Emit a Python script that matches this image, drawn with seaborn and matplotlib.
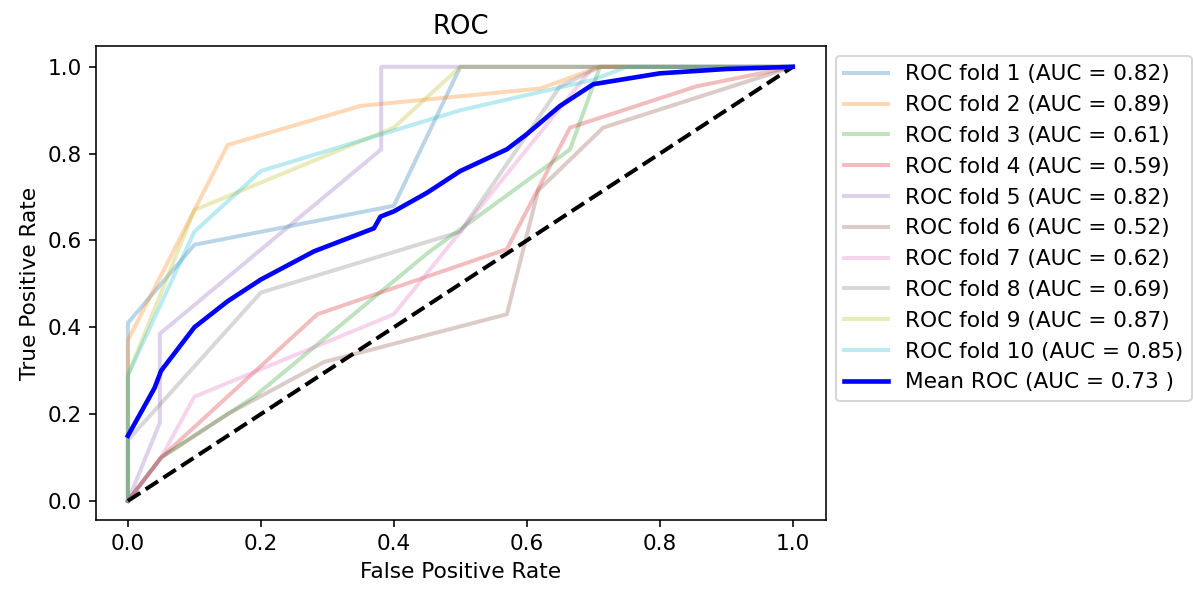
import numpy as np
import pandas as pd
import matplotlib
matplotlib.use("Agg")
import matplotlib.pyplot as plt
import seaborn as sns

# ROC curves of a 10-fold cross-validation
fold_aucs = [0.82, 0.89, 0.61, 0.59, 0.82, 0.52, 0.62, 0.69, 0.87, 0.85]
mean_auc = 0.73

fpr_1 = [0.0, 0.0, 0.10, 0.40, 0.50, 1.0]
tpr_1 = [0.0, 0.41, 0.59, 0.68, 1.0, 1.0]

fpr_2 = [0.0, 0.0, 0.15, 0.35, 0.62, 0.71, 1.0]
tpr_2 = [0.0, 0.37, 0.82, 0.91, 0.95, 1.0, 1.0]

fpr_3 = [0.0, 0.05, 0.19, 0.45, 0.665, 0.71, 1.0]
tpr_3 = [0.0, 0.10, 0.24, 0.57, 0.81, 1.0, 1.0]

fpr_4 = [0.0, 0.05, 0.285, 0.57, 0.665, 0.855, 1.0]
tpr_4 = [0.0, 0.10, 0.43, 0.58, 0.86, 0.955, 1.0]

fpr_5 = [0.0, 0.048, 0.048, 0.381, 0.381, 1.0]
tpr_5 = [0.0, 0.18, 0.385, 0.81, 1.0, 1.0]

fpr_6 = [0.0, 0.05, 0.15, 0.295, 0.57, 0.617, 0.715, 1.0]
tpr_6 = [0.0, 0.10, 0.20, 0.32, 0.43, 0.715, 0.86, 1.0]

fpr_7 = [0.0, 0.05, 0.10, 0.40, 0.70, 1.0]
tpr_7 = [0.0, 0.10, 0.24, 0.43, 1.0, 1.0]

fpr_8 = [0.0, 0.0, 0.20, 0.50, 0.65, 0.71, 1.0]
tpr_8 = [0.0, 0.14, 0.48, 0.62, 0.955, 1.0, 1.0]

fpr_9 = [0.0, 0.0, 0.10, 0.40, 0.50, 1.0]
tpr_9 = [0.0, 0.29, 0.67, 0.86, 1.0, 1.0]

fpr_10 = [0.0, 0.0, 0.10, 0.20, 0.50, 0.70, 0.75, 1.0]
tpr_10 = [0.0, 0.29, 0.62, 0.76, 0.90, 0.97, 1.0, 1.0]

mean_fpr = [0.0, 0.04, 0.05, 0.10, 0.15, 0.20, 0.28, 0.37, 0.38, 0.40,
            0.45, 0.50, 0.57, 0.60, 0.65, 0.70, 0.80, 0.90, 1.0]
mean_tpr = [0.15, 0.26, 0.30, 0.40, 0.46, 0.51, 0.575, 0.628, 0.655, 0.667,
            0.71, 0.76, 0.81, 0.845, 0.91, 0.96, 0.985, 0.995, 1.0]

chance = [0.0, 1.0]

fold_fprs = [fpr_1, fpr_2, fpr_3, fpr_4, fpr_5, fpr_6, fpr_7, fpr_8, fpr_9, fpr_10]
fold_tprs = [tpr_1, tpr_2, tpr_3, tpr_4, tpr_5, tpr_6, tpr_7, tpr_8, tpr_9, tpr_10]

plt.rcParams["font.family"] = ["DejaVu Sans"]
plt.rcParams["font.size"] = 10.8

fig = plt.figure(figsize=(1193 / 144, 589 / 144), dpi=144)
ax = fig.add_axes([96 / 1193, 69 / 589, 730 / 1193, 474 / 589])

palette = sns.color_palette("tab10", 10)
for i, (fp, tp) in enumerate(zip(fold_fprs, fold_tprs)):
    df = pd.DataFrame({"fpr": fp, "tpr": tp})
    sns.lineplot(data=df, x="fpr", y="tpr", sort=False, estimator=None,
                 color=palette[i], alpha=0.3, lw=2, ax=ax,
                 label=f"ROC fold {i + 1} (AUC = {fold_aucs[i]:.2f})")

sns.lineplot(x=chance, y=chance, sort=False, estimator=None, color="black",
             lw=2, linestyle="--", ax=ax)

sns.lineplot(x=mean_fpr, y=mean_tpr, sort=False, estimator=None, color="blue",
             lw=2.3, ax=ax, label=f"Mean ROC (AUC = {mean_auc:.2f} )")

ax.set_xlim(-0.048, 1.05)
ax.set_ylim(-0.044, 1.048)
ax.set_xticks(np.arange(0, 1.01, 0.2))
ax.set_yticks(np.arange(0, 1.01, 0.2))
ax.set_xlabel("False Positive Rate")
ax.set_ylabel("True Positive Rate")
ax.set_title("ROC")
ax.legend(loc="upper left", bbox_to_anchor=(1.0, 1.0), borderaxespad=0.45)

fig.savefig("out.png", dpi=144)
